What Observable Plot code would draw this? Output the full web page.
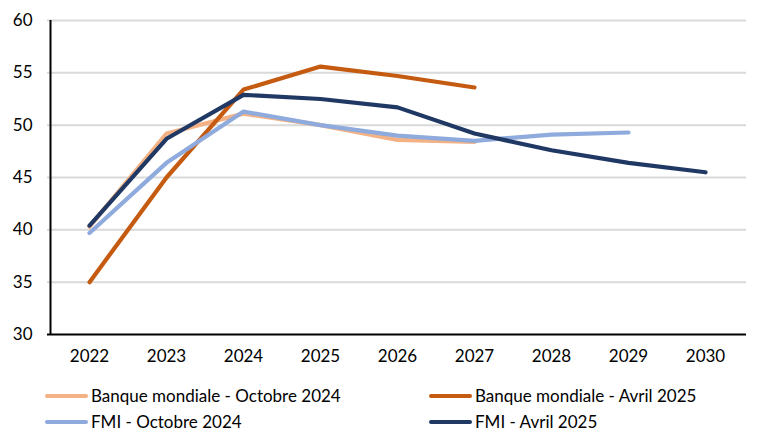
<!DOCTYPE html>
<html><head><meta charset="utf-8">
<script src="https://cdn.jsdelivr.net/npm/d3@7"></script>
<script src="https://cdn.jsdelivr.net/npm/@observablehq/plot@0.6"></script>
<style>
body{margin:0;background:#fff;font-family:Lato,"Open Sans",sans-serif;}
#legend{position:relative;height:63px;font-size:17px;color:#000;}
.item{position:absolute;display:flex;align-items:center;}
.sw{width:43px;height:4px;border-radius:2px;margin-right:3px;}
</style></head><body>
<div id="chart"></div>
<div id="legend"></div>
<script>
const years = [2022,2023,2024,2025,2026,2027,2028,2029,2030];
const seriesNames = ["Banque mondiale - Octobre 2024","Banque mondiale - Avril 2025","FMI - Octobre 2024","FMI - Avril 2025"];
const colors = ["#F4B183","#C55A11","#8FAADC","#203864"];
const bmOct2024 = [40.3,49.2,51.1,50.0,48.6,48.4];
const bmAvr2025 = [35.0,45.0,53.4,55.6,54.7,53.6];
const fmiOct2024 = [39.7,46.4,51.3,50.0,49.0,48.5,49.1,49.3];
const fmiAvr2025 = [40.4,48.7,52.9,52.5,51.7,49.2,47.6,46.4,45.5];
const yTicks = [30,35,40,45,50,55,60];

const all = [bmOct2024,bmAvr2025,fmiOct2024,fmiAvr2025];
const data = [];
all.forEach((vals,i)=>vals.forEach((v,j)=>data.push({year:years[j],value:v,series:seriesNames[i]})));

const plot = Plot.plot({
  width:768, height:375,
  marginTop:20, marginBottom:41, marginLeft:47, marginRight:22,
  style:{fontFamily:'Lato,"Open Sans",sans-serif',fontSize:"17px",color:"#000"},
  x:{type:"point",domain:years,padding:0.5,label:null},
  y:{domain:[30,60],label:null},
  color:{domain:seriesNames,range:colors},
  marks:[
    Plot.ruleY(yTicks.filter(d=>d>30),{stroke:"#d9d9d9",strokeWidth:2}),
    Plot.axisY({ticks:yTicks,tickSize:0,tickPadding:15,fontSize:17,label:null}),
    Plot.axisX({tickSize:0,tickPadding:15,fontSize:17,label:null,tickFormat:d=>String(d)}),
    Plot.line(data,{x:"year",y:"value",z:"series",stroke:"series",strokeWidth:4.2,curve:"linear",strokeLinecap:"round",strokeLinejoin:"round"}),
    Plot.ruleY([30],{stroke:"#000",strokeWidth:2}),
    Plot.ruleX([years[0]],{stroke:"#000",strokeWidth:2,dx:-39})
  ]
});
document.getElementById("chart").appendChild(plot);

const leg = document.getElementById("legend");
const pos = [[45,10],[429,10],[45,36],[429,36]];
[0,1,2,3].forEach((i,k)=>{
  const d=document.createElement("div");d.className="item";
  d.style.left=pos[k][0]+"px";d.style.top=pos[k][1]+"px";
  d.innerHTML=`<span class="sw" style="background:${colors[i]}"></span><span>${seriesNames[i]}</span>`;
  leg.appendChild(d);
});
</script>
</body></html>
